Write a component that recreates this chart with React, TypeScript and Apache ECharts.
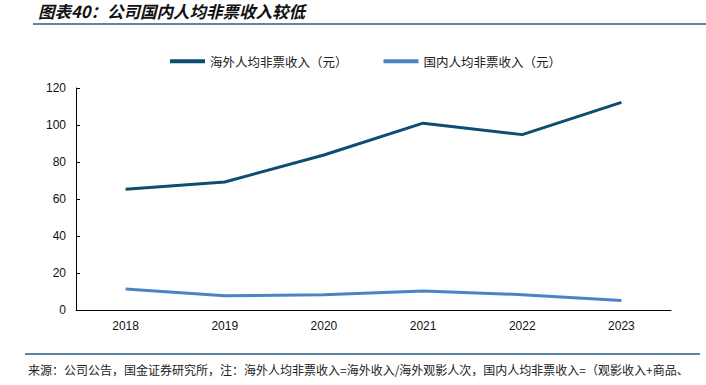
import React, { useEffect, useRef } from "react";
import * as echarts from "echarts";

const years = ["2018", "2019", "2020", "2021", "2022", "2023"];
const overseas = [65.3, 69.2, 83.8, 101.0, 94.8, 112.2];
const domestic = [11.4, 7.7, 8.2, 10.3, 8.3, 5.1];
const seriesNames = ["海外人均非票收入（元）", "国内人均非票收入（元）"];
const titleText = "图表40：公司国内人均非票收入较低";
const sourceText = "来源：公司公告，国金证券研究所，注：海外人均非票收入=海外收入/海外观影人次，国内人均非票收入=（观影收入+商品、";

export default function App() {
  const ref = useRef<HTMLDivElement>(null);
  useEffect(() => {
    const chart = echarts.init(ref.current!, null, { renderer: "svg" });
    const font = "'Noto Sans CJK SC', sans-serif";
    chart.setOption({
      animation: false,
      textStyle: { fontFamily: font },
      graphic: [
        {
          type: "text",
          left: 38,
          top: 3,
          style: {
            text: titleText,
            font: "italic bold 16.5px 'Noto Sans CJK SC', sans-serif",
            fill: "#111",
          },
        },
        {
          type: "line",
          shape: { x1: 33, y1: 24, x2: 706, y2: 24 },
          style: { stroke: "#2a5d86", lineWidth: 1.5 },
        },
        {
          type: "line",
          shape: { x1: 25, y1: 354, x2: 700, y2: 354 },
          style: { stroke: "#2a5d86", lineWidth: 1.5 },
        },
        {
          type: "text",
          left: 28,
          top: 363,
          style: {
            text: sourceText,
            font: "12px 'Noto Sans CJK SC', sans-serif",
            fill: "#222",
          },
        },
      ],
      legend: {
        left: 165,
        top: 50,
        itemWidth: 35,
        itemHeight: 4,
        itemGap: 36,
        icon: "rect",
        textStyle: { fontSize: 12.5, color: "#222", fontFamily: font },
        data: seriesNames,
      },
      grid: { left: 76, right: 35, top: 88, bottom: 75, containLabel: false },
      xAxis: {
        type: "category",
        data: years,
        boundaryGap: true,
        axisLine: { lineStyle: { color: "#000", width: 1 } },
        axisTick: { inside: true, length: 4, lineStyle: { color: "#000" } },
        axisLabel: { color: "#111", fontSize: 12, fontFamily: "Arial, 'Liberation Sans', sans-serif", margin: 10 },
      },
      yAxis: {
        type: "value",
        min: 0,
        max: 120,
        interval: 20,
        axisLine: { show: true, lineStyle: { color: "#000", width: 1 } },
        axisTick: { show: true, inside: true, length: 4, lineStyle: { color: "#000" } },
        splitLine: { show: false },
        axisLabel: { color: "#111", fontSize: 12, fontFamily: "Arial, 'Liberation Sans', sans-serif", margin: 10 },
      },
      series: [
        {
          name: seriesNames[0],
          type: "line",
          data: overseas,
          symbol: "none",
          lineStyle: { width: 3, color: "#0d4d72" },
          itemStyle: { color: "#0d4d72" },
        },
        {
          name: seriesNames[1],
          type: "line",
          data: domestic,
          symbol: "none",
          lineStyle: { width: 3, color: "#4a84c4" },
          itemStyle: { color: "#4a84c4" },
        },
      ],
    });
    return () => chart.dispose();
  }, []);
  return <div ref={ref} style={{ width: 706, height: 385, position: "absolute", left: 0, top: 0 }} />;
}
